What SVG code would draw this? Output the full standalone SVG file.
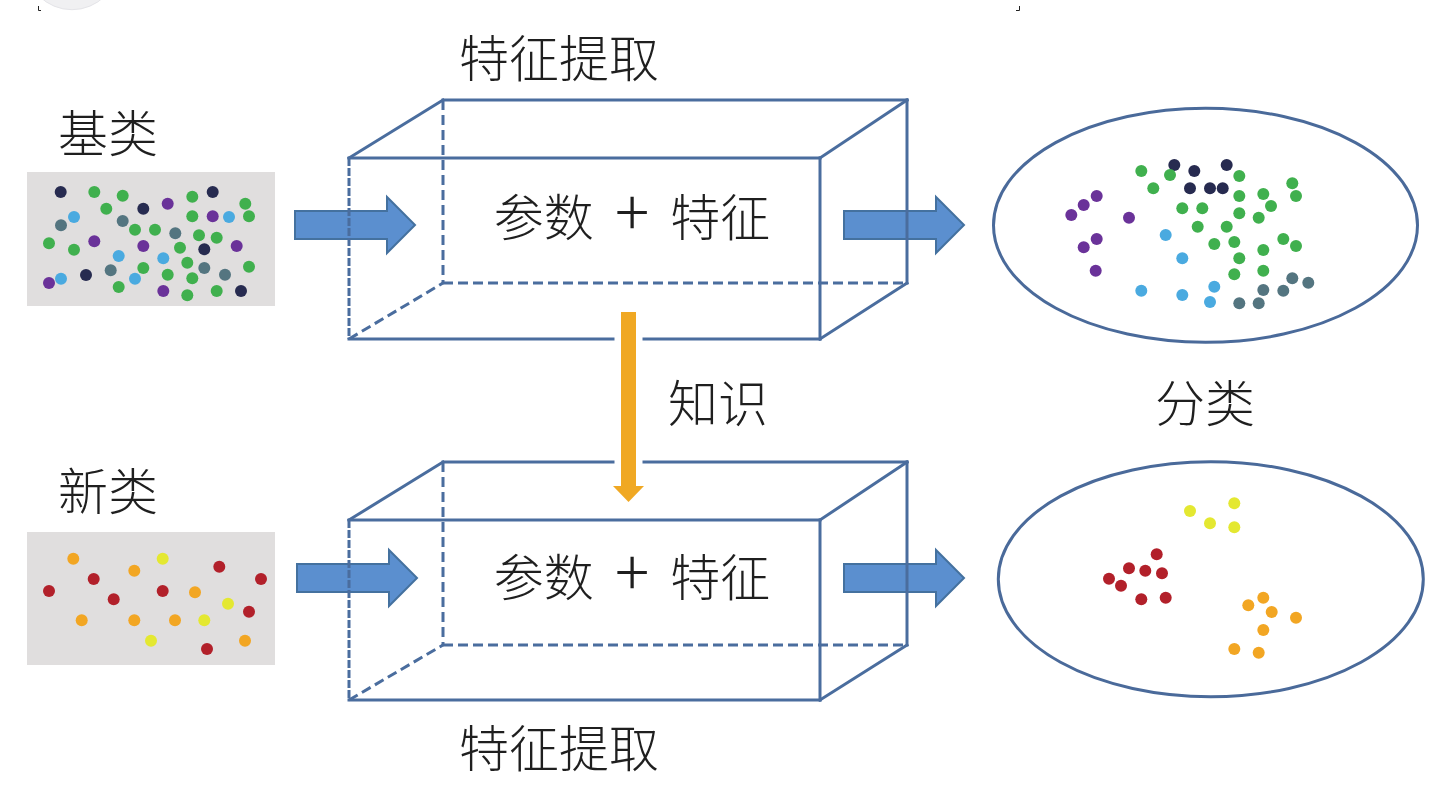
<svg xmlns="http://www.w3.org/2000/svg" width="1442" height="802" viewBox="0 0 1442 802">
<style>
  .lbl { font-family: "Noto Sans CJK SC", "Noto Sans CJK JP", sans-serif; font-size: 50px; fill: #1f1f1f; font-weight: 300; }
  .mid { text-anchor: middle; }
  .plus { font-size: 64px; font-weight: 200; }
  .edge { stroke: #4a6d9e; stroke-width: 3; fill: none; stroke-linecap: square; }
  .dash { stroke: #4a6d9e; stroke-width: 3; fill: none; stroke-dasharray: 10 5; }
  .fdash { stroke: #4a6d9e; stroke-width: 3; fill: none; stroke-dasharray: 8 2; }
  .barrow { fill: #5b8fcf; stroke: #44719f; stroke-width: 2; stroke-linejoin: miter; }
  .ell { fill: #ffffff; stroke: #4a6a9a; stroke-width: 3; }
  .panel { fill: #e0dede; }
  .g { fill: #40b04e; } .n { fill: #272b50; } .p { fill: #6a3299; } .b { fill: #4aaae0; } .s { fill: #547580; }
  .r { fill: #b2202a; } .o { fill: #f2a623; } .y { fill: #e4e831; }
</style>
<defs>
  <path id="rarrow" d="M0 -14 H92 V-28 L120 0 L92 28 V14 H0 Z"/>
</defs>
<rect width="1442" height="802" fill="#ffffff"/>
<circle cx="72" cy="-37" r="46.7" fill="#f0f0f2" stroke="#e4e4e8" stroke-width="1"/>
<path d="M38.5 6 V10.5 H41" stroke="#222" stroke-width="1" fill="none"/>
<path d="M1016 10.5 H1019.5 V6" stroke="#222" stroke-width="1" fill="none"/>

<g id="connectors">
  <use href="#rarrow" class="barrow" transform="translate(295,225)"/>
  <use href="#rarrow" class="barrow" transform="translate(844,225)"/>
  <use href="#rarrow" class="barrow" transform="translate(297,578)"/>
  <use href="#rarrow" class="barrow" transform="translate(844,578)"/>
</g>

<g id="box-top">
  <line class="dash" x1="443" y1="100" x2="443" y2="283"/>
  <line class="dash" x1="443" y1="283" x2="907" y2="283"/>
  <line class="dash" x1="349" y1="339" x2="443" y2="283"/>
  <line class="edge" x1="349" y1="158" x2="443" y2="100"/>
  <line class="edge" x1="443" y1="100" x2="907" y2="100"/>
  <line class="edge" x1="820" y1="158" x2="907" y2="100"/>
  <line class="edge" x1="907" y1="100" x2="907" y2="283"/>
  <line class="edge" x1="820" y1="339" x2="907" y2="283"/>
  <line class="edge" x1="349" y1="158" x2="820" y2="158"/>
  <line class="edge" x1="820" y1="158" x2="820" y2="339"/>
  <line class="edge" x1="349" y1="339" x2="820" y2="339"/>
  <line class="fdash" x1="349" y1="158" x2="349" y2="339"/>
  <text class="lbl mid" x="632" y="236" word-spacing="10">参数 <tspan class="plus">+</tspan> 特征</text>
</g>

<g id="box-bottom">
  <line class="dash" x1="443" y1="462" x2="443" y2="645"/>
  <line class="dash" x1="443" y1="645" x2="907" y2="645"/>
  <line class="dash" x1="349" y1="700" x2="443" y2="645"/>
  <line class="edge" x1="349" y1="520" x2="443" y2="462"/>
  <line class="edge" x1="443" y1="462" x2="907" y2="462"/>
  <line class="edge" x1="820" y1="520" x2="907" y2="462"/>
  <line class="edge" x1="907" y1="462" x2="907" y2="645"/>
  <line class="edge" x1="820" y1="700" x2="907" y2="645"/>
  <line class="edge" x1="349" y1="520" x2="820" y2="520"/>
  <line class="edge" x1="820" y1="520" x2="820" y2="700"/>
  <line class="edge" x1="349" y1="700" x2="820" y2="700"/>
  <line class="fdash" x1="349" y1="520" x2="349" y2="700"/>
  <text class="lbl mid" x="632" y="596" word-spacing="10">参数 <tspan class="plus">+</tspan> 特征</text>
</g>

<g id="knowledge-arrow">
  <path d="M621 312 H636 V486 H644 L628.5 502 L613 486 H621 Z" fill="#ffffff" stroke="#ffffff" stroke-width="13" stroke-linejoin="round"/>
  <path d="M621 312 H636 V486 H644 L628.5 502 L613 486 H621 Z" fill="#f0a823"/>
</g>

<g id="labels">
  <text class="lbl mid" x="559" y="77">特征提取</text>
  <text class="lbl mid" x="108" y="152">基类</text>
  <text class="lbl mid" x="108" y="510">新类</text>
  <text class="lbl mid" x="718" y="422">知识</text>
  <text class="lbl mid" x="1205" y="422">分类</text>
  <text class="lbl mid" x="559" y="767">特征提取</text>
</g>

<g id="base-samples">
  <rect class="panel" x="27" y="172" width="248" height="134"/>
  <g>
    <circle class="n" cx="60.7" cy="192" r="6"/><circle class="n" cx="212.7" cy="192" r="6"/><circle class="n" cx="143.3" cy="208.7" r="6"/>
    <circle class="n" cx="204.3" cy="249.3" r="6"/><circle class="n" cx="86" cy="275" r="6"/><circle class="n" cx="241" cy="291" r="6"/>
    <circle class="g" cx="94.3" cy="192" r="6"/><circle class="g" cx="122.7" cy="195.7" r="6"/><circle class="g" cx="106.3" cy="208.7" r="6"/>
    <circle class="g" cx="192.3" cy="196.7" r="6"/><circle class="g" cx="245.3" cy="203.7" r="6"/><circle class="g" cx="192.3" cy="216.3" r="6"/>
    <circle class="g" cx="249" cy="216.3" r="6"/><circle class="g" cx="135" cy="229.7" r="6"/><circle class="g" cx="155" cy="229.7" r="6"/>
    <circle class="g" cx="199" cy="235.3" r="6"/><circle class="g" cx="216.7" cy="237.7" r="6"/><circle class="g" cx="49" cy="243.3" r="6"/>
    <circle class="g" cx="74" cy="249.7" r="6"/><circle class="g" cx="180" cy="247.7" r="6"/><circle class="g" cx="187.3" cy="262.7" r="6"/>
    <circle class="g" cx="143.3" cy="268" r="6"/><circle class="g" cx="249" cy="266.7" r="6"/><circle class="g" cx="167.7" cy="274.7" r="6"/>
    <circle class="g" cx="192.3" cy="278.3" r="6"/><circle class="g" cx="118.7" cy="287" r="6"/><circle class="g" cx="187.3" cy="295.3" r="6"/>
    <circle class="g" cx="216.7" cy="291" r="6"/>
    <circle class="p" cx="167.7" cy="203.7" r="6"/><circle class="p" cx="212.7" cy="216.3" r="6"/><circle class="p" cx="94.3" cy="241.3" r="6"/>
    <circle class="p" cx="143.3" cy="246" r="6"/><circle class="p" cx="236.7" cy="246" r="6"/><circle class="p" cx="49" cy="283" r="6"/>
    <circle class="p" cx="163.3" cy="291" r="6"/>
    <circle class="b" cx="74" cy="217" r="6"/><circle class="b" cx="229" cy="217" r="6"/><circle class="b" cx="118.7" cy="256" r="6"/>
    <circle class="b" cx="163.3" cy="258.3" r="6"/><circle class="b" cx="61" cy="278.7" r="6"/><circle class="b" cx="135" cy="278.7" r="6"/>
    <circle class="s" cx="61" cy="225.3" r="6"/><circle class="s" cx="122.7" cy="221" r="6"/><circle class="s" cx="175.3" cy="233.3" r="6"/>
    <circle class="s" cx="110.7" cy="270.3" r="6"/><circle class="s" cx="204.3" cy="268" r="6"/><circle class="s" cx="225" cy="274.7" r="6"/>
  </g>
</g>

<g id="novel-samples">
  <rect class="panel" x="27" y="532" width="248" height="133"/>
  <g>
    <circle class="o" cx="73.3" cy="558.7" r="6"/><circle class="o" cx="134.3" cy="570.7" r="6"/><circle class="o" cx="195" cy="592.3" r="6"/>
    <circle class="o" cx="81.7" cy="620.3" r="6"/><circle class="o" cx="134.3" cy="620.3" r="6"/><circle class="o" cx="175" cy="620.3" r="6"/>
    <circle class="o" cx="245" cy="640.7" r="6"/>
    <circle class="y" cx="162.7" cy="558.7" r="6"/><circle class="y" cx="228" cy="603.7" r="6"/><circle class="y" cx="204.3" cy="620.3" r="6"/>
    <circle class="y" cx="151" cy="640.7" r="6"/>
    <circle class="r" cx="219.3" cy="566.7" r="6"/><circle class="r" cx="261" cy="579" r="6"/><circle class="r" cx="93.7" cy="579" r="6"/>
    <circle class="r" cx="49" cy="591" r="6"/><circle class="r" cx="162.7" cy="591" r="6"/><circle class="r" cx="113.7" cy="599.3" r="6"/>
    <circle class="r" cx="249" cy="611.7" r="6"/><circle class="r" cx="207" cy="649" r="6"/>
  </g>
</g>

<g id="classified-base">
  <ellipse class="ell" cx="1205.5" cy="225.3" rx="212" ry="117"/>
  <g>
    <circle class="n" cx="1174.3" cy="165" r="6"/><circle class="n" cx="1194.3" cy="171" r="6"/><circle class="n" cx="1226.7" cy="165" r="6"/>
    <circle class="n" cx="1190" cy="188.3" r="6"/><circle class="n" cx="1210" cy="188.3" r="6"/><circle class="n" cx="1222.7" cy="188.3" r="6"/>
    <circle class="g" cx="1141.3" cy="171" r="6"/><circle class="g" cx="1170" cy="175" r="6"/><circle class="g" cx="1153.3" cy="188.3" r="6"/>
    <circle class="g" cx="1239.3" cy="176" r="6"/><circle class="g" cx="1292.3" cy="183.3" r="6"/><circle class="g" cx="1239.3" cy="196" r="6"/>
    <circle class="g" cx="1263.3" cy="194" r="6"/><circle class="g" cx="1296" cy="196" r="6"/><circle class="g" cx="1271" cy="206" r="6"/>
    <circle class="g" cx="1182.3" cy="208.3" r="6"/><circle class="g" cx="1202.3" cy="208.3" r="6"/><circle class="g" cx="1239.3" cy="213.3" r="6"/>
    <circle class="g" cx="1258.7" cy="217.7" r="6"/><circle class="g" cx="1197.7" cy="226.7" r="6"/><circle class="g" cx="1226.7" cy="226.7" r="6"/>
    <circle class="g" cx="1234.3" cy="242" r="6"/><circle class="g" cx="1214.3" cy="244" r="6"/><circle class="g" cx="1283.3" cy="239" r="6"/>
    <circle class="g" cx="1296" cy="246" r="6"/><circle class="g" cx="1263.3" cy="250" r="6"/><circle class="g" cx="1239.3" cy="258.3" r="6"/>
    <circle class="g" cx="1234.3" cy="274.3" r="6"/><circle class="g" cx="1263.3" cy="270.7" r="6"/>
    <circle class="p" cx="1096.7" cy="196" r="6"/><circle class="p" cx="1083.7" cy="205" r="6"/><circle class="p" cx="1071.3" cy="215" r="6"/>
    <circle class="p" cx="1129" cy="217.7" r="6"/><circle class="p" cx="1096.7" cy="239" r="6"/><circle class="p" cx="1083.7" cy="247.3" r="6"/>
    <circle class="p" cx="1095.7" cy="270.7" r="6"/>
    <circle class="b" cx="1165.7" cy="235" r="6"/><circle class="b" cx="1182.3" cy="258.3" r="6"/><circle class="b" cx="1141.3" cy="290.7" r="6"/>
    <circle class="b" cx="1182.3" cy="295" r="6"/><circle class="b" cx="1214.3" cy="286.7" r="6"/><circle class="b" cx="1210" cy="302" r="6"/>
    <circle class="s" cx="1292.3" cy="278.3" r="6"/><circle class="s" cx="1308.3" cy="282.7" r="6"/><circle class="s" cx="1263.3" cy="290" r="6"/>
    <circle class="s" cx="1283.3" cy="290.7" r="6"/><circle class="s" cx="1239.3" cy="303.3" r="6"/><circle class="s" cx="1258.7" cy="303.3" r="6"/>
  </g>
</g>

<g id="classified-novel">
  <ellipse class="ell" cx="1210.8" cy="579.2" rx="212.5" ry="117.5"/>
  <g>
    <circle class="y" cx="1190" cy="511" r="6"/><circle class="y" cx="1210" cy="523.3" r="6"/><circle class="y" cx="1234.3" cy="503.3" r="6"/>
    <circle class="y" cx="1234.3" cy="527.3" r="6"/>
    <circle class="r" cx="1156.7" cy="554.3" r="6"/><circle class="r" cx="1129" cy="568.3" r="6"/><circle class="r" cx="1145.3" cy="570.7" r="6"/>
    <circle class="r" cx="1162" cy="573.3" r="6"/><circle class="r" cx="1109" cy="578.7" r="6"/><circle class="r" cx="1121" cy="585.7" r="6"/>
    <circle class="r" cx="1141.3" cy="599.3" r="6"/><circle class="r" cx="1165.7" cy="597.7" r="6"/>
    <circle class="o" cx="1263.3" cy="597.7" r="6"/><circle class="o" cx="1248.3" cy="605.3" r="6"/><circle class="o" cx="1271.7" cy="612" r="6"/>
    <circle class="o" cx="1296" cy="617.7" r="6"/><circle class="o" cx="1263.3" cy="630" r="6"/><circle class="o" cx="1234.3" cy="649" r="6"/>
    <circle class="o" cx="1258.7" cy="652.7" r="6"/>
  </g>
</g>
</svg>
